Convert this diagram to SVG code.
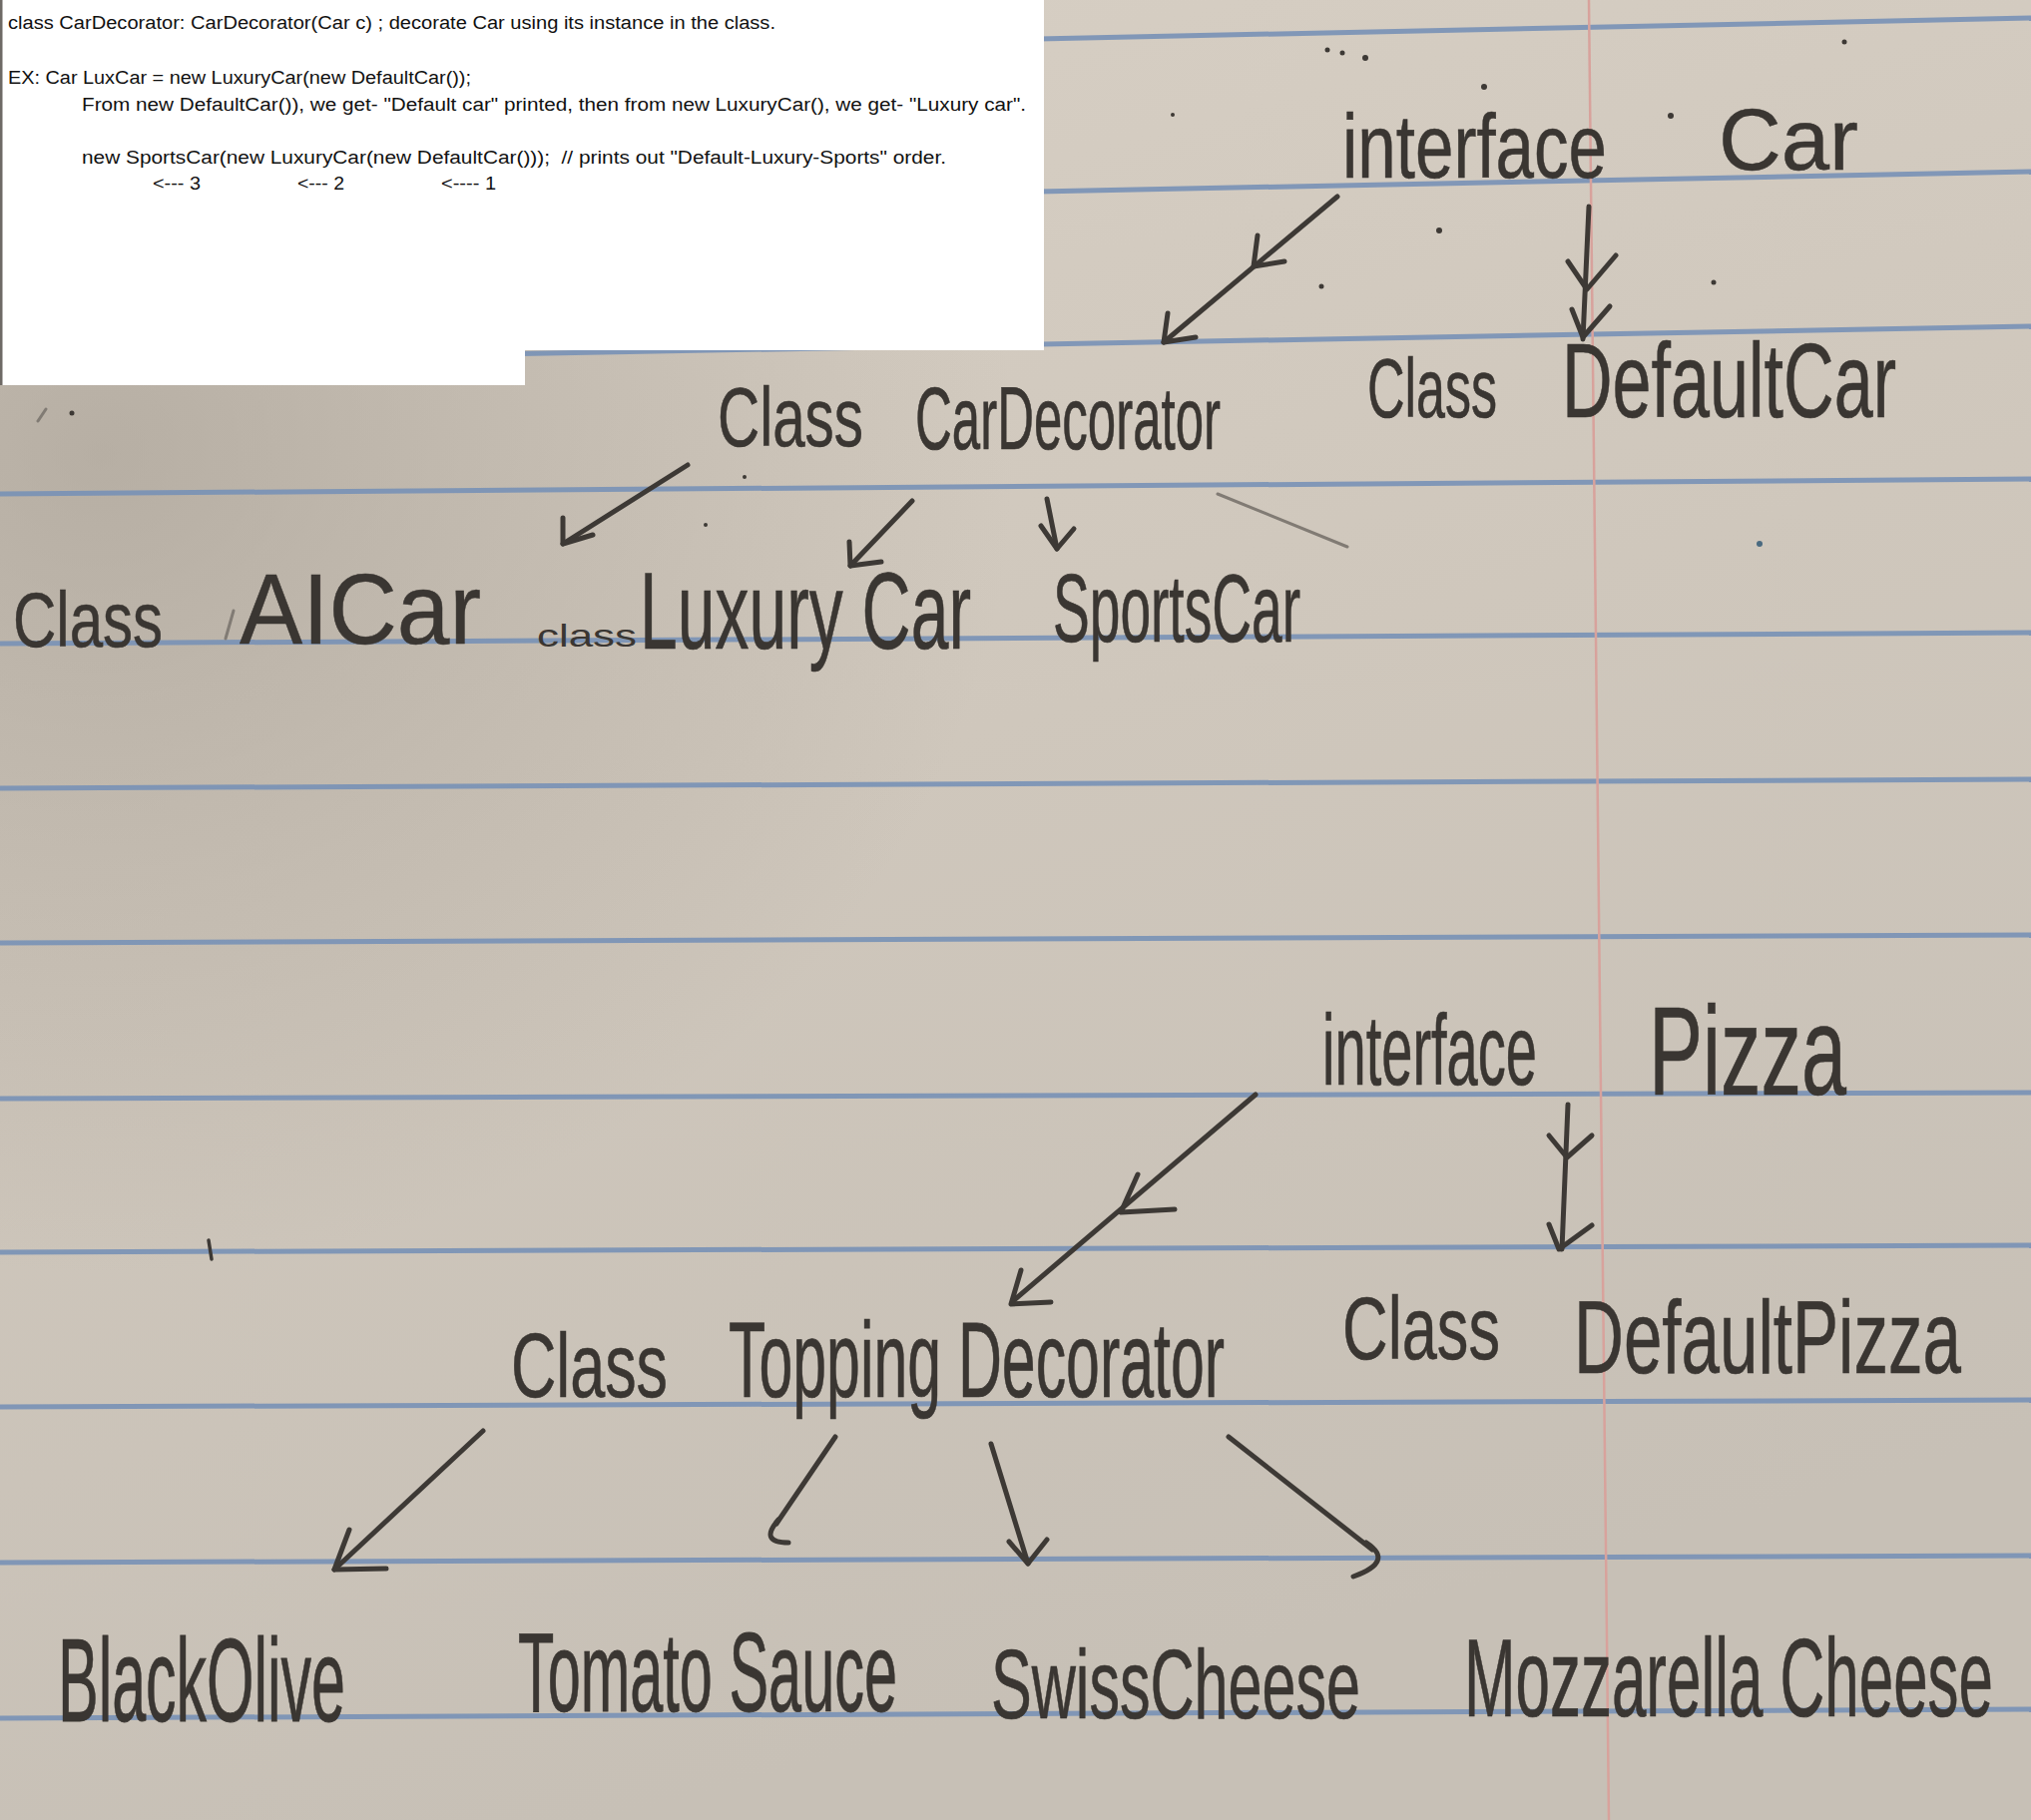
<svg xmlns="http://www.w3.org/2000/svg" width="2035" height="1824" viewBox="0 0 2035 1824">
<defs>
<linearGradient id="paper" x1="0" y1="0" x2="0.3" y2="1">
<stop offset="0" stop-color="#d8d0c5"/>
<stop offset="0.5" stop-color="#cfc7bc"/>
<stop offset="1" stop-color="#c7c0b6"/>
</linearGradient>
<radialGradient id="shade" cx="0.05" cy="0.25" r="0.45">
<stop offset="0" stop-color="#9f978c" stop-opacity="0.55"/>
<stop offset="1" stop-color="#9f978c" stop-opacity="0"/>
</radialGradient>
<style>
.rule{stroke:#7891b6;stroke-width:5;fill:none;opacity:0.9}
.margin{stroke:#d8a29c;stroke-width:2.5;fill:none}
.ink{stroke:#3d3935;stroke-width:5;fill:none;stroke-linecap:round;stroke-linejoin:round}
.faint{stroke:#817b74;stroke-width:3;fill:none;stroke-linecap:round}
.hw{font-family:"Liberation Sans","DejaVu Sans",sans-serif;fill:#3a3632;stroke:#3a3632;stroke-width:0.4}
.typed{font-family:"Liberation Sans",Arial,sans-serif;font-size:18px;fill:#111;white-space:pre}
.dot{fill:#3d3935}
</style>
</defs>
<rect x="0" y="0" width="2035" height="1824" fill="url(#paper)"/>
<rect x="0" y="0" width="2035" height="1824" fill="url(#shade)"/>
<g id="paper-lines">
<line class="rule" x1="1040" y1="39" x2="2035" y2="18"/>
<line class="rule" x1="1040" y1="192" x2="2035" y2="172"/>
<line class="rule" x1="0" y1="364" x2="2035" y2="327"/>
<line class="rule" x1="0" y1="495" x2="2035" y2="480"/>
<line class="rule" x1="0" y1="645" x2="2035" y2="634"/>
<line class="rule" x1="0" y1="790" x2="2035" y2="781"/>
<line class="rule" x1="0" y1="945" x2="2035" y2="937"/>
<line class="rule" x1="0" y1="1101" x2="2035" y2="1095"/>
<line class="rule" x1="0" y1="1255" x2="2035" y2="1248"/>
<line class="rule" x1="0" y1="1410" x2="2035" y2="1403"/>
<line class="rule" x1="0" y1="1566" x2="2035" y2="1559"/>
<line class="rule" x1="0" y1="1722" x2="2035" y2="1713"/>
<line class="margin" x1="1592" y1="0" x2="1612" y2="1824"/>
</g>
<g id="specks">
<circle class="dot" cx="1330" cy="50" r="2.5"/>
<circle class="dot" cx="1345" cy="53" r="2.5"/>
<circle class="dot" cx="1368" cy="58" r="3"/>
<circle class="dot" cx="1487" cy="87" r="3"/>
<circle class="dot" cx="1674" cy="116" r="3"/>
<circle class="dot" cx="1442" cy="231" r="3"/>
<circle class="dot" cx="1848" cy="42" r="2.5"/>
<circle class="dot" cx="1175" cy="115" r="2"/>
<circle class="dot" cx="1324" cy="287" r="2.5"/>
<circle class="dot" cx="1717" cy="283" r="2.5"/>
<circle class="dot" cx="746" cy="478" r="2"/>
<circle class="dot" cx="707" cy="526" r="2"/>
<circle fill="#4a6a80" cx="1763" cy="545" r="3"/>
<circle class="dot" cx="72" cy="414" r="2.5"/>
<line class="faint" x1="38" y1="422" x2="46" y2="410"/>
<line class="faint" x1="226" y1="640" x2="234" y2="612"/>
<line class="ink" x1="209" y1="1243" x2="212" y2="1262" style="stroke-width:3.5"/>
</g>
<g id="note-box">
<path d="M0 0 H1046 V351 H526 V386 H0 Z" fill="#ffffff"/>
<rect x="0" y="0" width="2.5" height="386" fill="#6e6a66"/>
<text class="typed" x="8" y="29" textLength="769" lengthAdjust="spacingAndGlyphs">class CarDecorator: CarDecorator(Car c) ; decorate Car using its instance in the class.</text>
<text class="typed" x="8" y="84" textLength="464" lengthAdjust="spacingAndGlyphs">EX: Car LuxCar = new LuxuryCar(new DefaultCar());</text>
<text class="typed" x="82" y="111" textLength="946" lengthAdjust="spacingAndGlyphs">From new DefaultCar()), we get- "Default car" printed, then from new LuxuryCar(), we get- "Luxury car".</text>
<text class="typed" x="82" y="164" textLength="866" lengthAdjust="spacingAndGlyphs">new SportsCar(new LuxuryCar(new DefaultCar()));  // prints out "Default-Luxury-Sports" order.</text>
<text class="typed" x="153" y="190" textLength="48" lengthAdjust="spacingAndGlyphs">&lt;--- 3</text>
<text class="typed" x="298" y="190" textLength="47" lengthAdjust="spacingAndGlyphs">&lt;--- 2</text>
<text class="typed" x="442" y="190" textLength="55" lengthAdjust="spacingAndGlyphs">&lt;---- 1</text>
</g>
<g id="connectors">
<path class="ink" d="M1340 197 L1166 343"/>
<path class="ink" d="M1260 236 L1256 267 L1287 262"/>
<path class="ink" d="M1170 314 L1166 343 L1198 338"/>
<path class="ink" d="M1592 207 L1586 340"/>
<path class="ink" d="M1571 262 L1590 290 L1619 256"/>
<path class="ink" d="M1575 310 L1586 338 L1613 307"/>
<path class="ink" d="M689 466 L564 545"/>
<path class="ink" d="M564 519 L564 545 L594 536"/>
<path class="ink" d="M914 502 L852 567"/>
<path class="ink" d="M851 543 L852 567 L883 563"/>
<path class="ink" d="M1049 500 L1059 550"/>
<path class="ink" d="M1043 527 L1059 550 L1076 530"/>
<path class="faint" d="M1220 495 L1350 548"/>
<path class="ink" d="M1258 1097 L1016 1303"/>
<path class="ink" d="M1140 1177 L1123 1215 L1177 1212"/>
<path class="ink" d="M1023 1273 L1013 1307 L1053 1305"/>
<path class="ink" d="M1571 1107 L1565 1252"/>
<path class="ink" d="M1552 1138 L1570 1160 L1595 1138"/>
<path class="ink" d="M1552 1227 L1562 1252 L1595 1228"/>
<path class="ink" d="M484 1434 L335 1573"/>
<path class="ink" d="M350 1533 L335 1573 L387 1572"/>
<path class="ink" d="M837 1440 L778 1527"/>
<path class="ink" d="M780 1523 Q760 1546 790 1546"/>
<path class="ink" d="M993 1447 L1030 1567"/>
<path class="ink" d="M1011 1545 L1030 1567 L1049 1543"/>
<path class="ink" d="M1231 1440 L1375 1553"/>
<path class="ink" d="M1369 1546 Q1398 1565 1356 1580"/>
</g>
<g id="interface-car">
<text class="hw" transform="translate(1345,178) scale(1,1.33)" font-size="69" textLength="265" lengthAdjust="spacingAndGlyphs">interface</text>
<text class="hw" transform="translate(1722,170) scale(1,1.15)" font-size="76" textLength="140" lengthAdjust="spacingAndGlyphs">Car</text>
</g>
<g id="class-defaultcar">
<text class="hw" transform="translate(1370,418) scale(1,1.6)" font-size="52" textLength="130" lengthAdjust="spacingAndGlyphs">Class</text>
<text class="hw" transform="translate(1565,418) scale(1,1.5)" font-size="70" textLength="335" lengthAdjust="spacingAndGlyphs">DefaultCar</text>
</g>
<g id="class-cardecorator">
<text class="hw" transform="translate(719,447) scale(1,1.45)" font-size="58" textLength="146" lengthAdjust="spacingAndGlyphs">Class</text>
<text class="hw" transform="translate(917,450) scale(1,1.75)" font-size="51" textLength="306" lengthAdjust="spacingAndGlyphs">CarDecorator</text>
</g>
<g id="class-aicar">
<text class="hw" transform="translate(13,648) scale(1,1.3)" font-size="60" textLength="150" lengthAdjust="spacingAndGlyphs">Class</text>
<text class="hw" transform="translate(240,645) scale(1,1.25)" font-size="80" textLength="242" lengthAdjust="spacingAndGlyphs">AICar</text>
</g>
<g id="class-luxurycar">
<text class="hw" transform="translate(538,648) scale(1,0.8)" font-size="40" textLength="100" lengthAdjust="spacingAndGlyphs" style="stroke-width:0">class</text>
<text class="hw" transform="translate(641,650) scale(1,1.6)" font-size="68" textLength="332" lengthAdjust="spacingAndGlyphs">Luxury Car</text>
</g>
<g id="class-sportscar">
<text class="hw" transform="translate(1055,643) scale(1,1.75)" font-size="55" textLength="248" lengthAdjust="spacingAndGlyphs">SportsCar</text>
</g>
<g id="interface-pizza">
<text class="hw" transform="translate(1325,1087) scale(1,1.8)" font-size="56" textLength="215" lengthAdjust="spacingAndGlyphs">interface</text>
<text class="hw" transform="translate(1652,1097) scale(1,1.55)" font-size="81" textLength="198" lengthAdjust="spacingAndGlyphs">Pizza</text>
</g>
<g id="class-defaultpizza">
<text class="hw" transform="translate(1345,1362) scale(1,1.4)" font-size="63" textLength="158" lengthAdjust="spacingAndGlyphs">Class</text>
<text class="hw" transform="translate(1577,1376) scale(1,1.5)" font-size="69" textLength="388" lengthAdjust="spacingAndGlyphs">DefaultPizza</text>
</g>
<g id="class-toppingdecorator">
<text class="hw" transform="translate(512,1400) scale(1,1.45)" font-size="63" textLength="157" lengthAdjust="spacingAndGlyphs">Class</text>
<text class="hw" transform="translate(730,1400) scale(1,1.8)" font-size="60" textLength="497" lengthAdjust="spacingAndGlyphs">Topping Decorator</text>
</g>
<g id="blackolive">
<text class="hw" transform="translate(58,1725) scale(1,1.95)" font-size="61" textLength="288" lengthAdjust="spacingAndGlyphs">BlackOlive</text>
</g>
<g id="tomatosauce">
<text class="hw" transform="translate(519,1715) scale(1,1.95)" font-size="58" textLength="380" lengthAdjust="spacingAndGlyphs">Tomato Sauce</text>
</g>
<g id="swisscheese">
<text class="hw" transform="translate(993,1722) scale(1,1.6)" font-size="61" textLength="370" lengthAdjust="spacingAndGlyphs">SwissCheese</text>
</g>
<g id="mozzarellacheese">
<text class="hw" transform="translate(1467,1720) scale(1,1.8)" font-size="62" textLength="530" lengthAdjust="spacingAndGlyphs">Mozzarella Cheese</text>
</g>
</svg>
